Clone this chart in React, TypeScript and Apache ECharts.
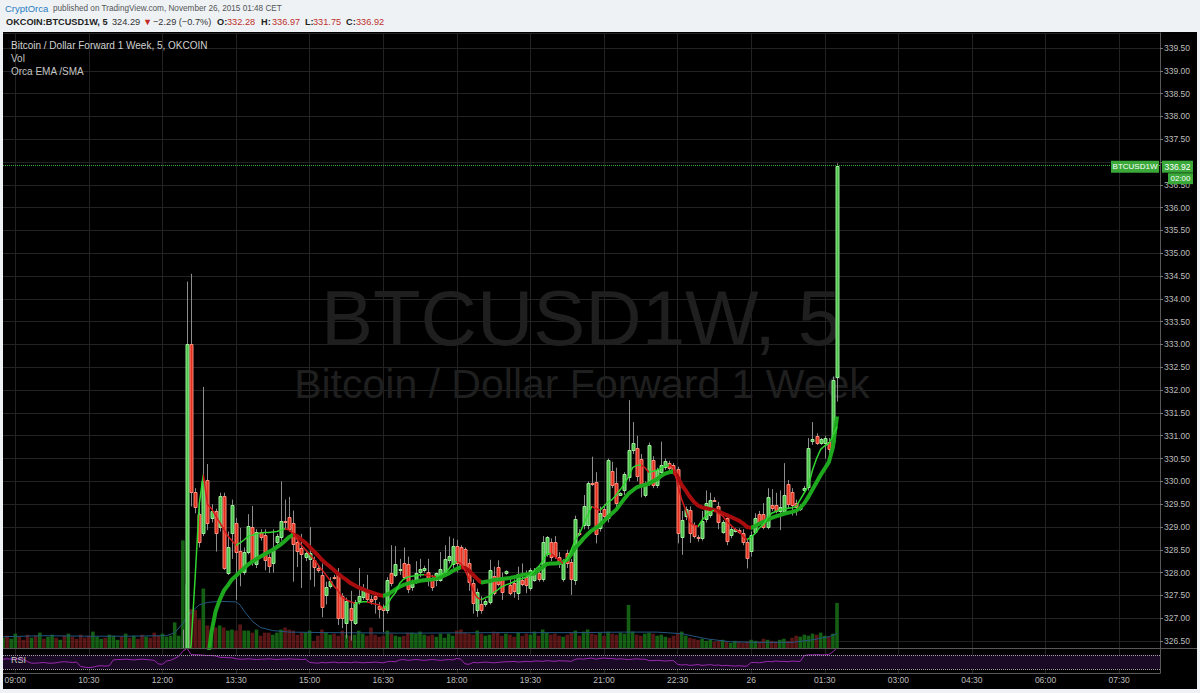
import React, { useEffect, useRef } from 'react';
import * as echarts from 'echarts';

const FONT = "'Liberation Sans', Arial, sans-serif";

// 5-minute slots from 08:45 (Nov 25) to 08:20 (Nov 26)
const firstSlotMinutes = 8 * 60 + 45;
const slotMinutes = 5;
const slotCount = 284;
const timeTicks = ['09:00', '10:30', '12:00', '13:30', '15:00', '16:30', '18:00', '19:30', '21:00', '22:30', '00:00', '01:30', '03:00', '04:30', '06:00', '07:30'];
const dayLabels: Record<string, string> = { '00:00': '26' };

// [open, high, low, close] per 5-minute bar, starting 08:45
const candles: number[][] = [
  [324.35, 324.45, 324.30, 324.40], [324.40, 324.44, 324.26, 324.30], [324.30, 324.42, 324.27, 324.38], [324.38, 324.50, 324.35, 324.45], [324.45, 324.48, 324.32, 324.36],
  [324.36, 324.40, 324.25, 324.30], [324.30, 324.33, 324.18, 324.22], [324.22, 324.32, 324.19, 324.28], [324.28, 324.31, 324.15, 324.20], [324.20, 324.29, 324.17, 324.25],
  [324.25, 324.27, 324.14, 324.18], [324.18, 324.28, 324.15, 324.24], [324.24, 324.35, 324.21, 324.30], [324.30, 324.33, 324.22, 324.26], [324.26, 324.37, 324.23, 324.33],
  [324.33, 324.36, 324.25, 324.29], [324.29, 324.40, 324.26, 324.35], [324.35, 324.38, 324.28, 324.31], [324.31, 324.34, 324.22, 324.27], [324.27, 324.30, 324.15, 324.20],
  [324.20, 324.23, 324.08, 324.12], [324.12, 324.16, 324.05, 324.10], [324.10, 324.19, 324.07, 324.15], [324.15, 324.22, 324.12, 324.18], [324.18, 324.26, 324.15, 324.22],
  [324.22, 324.25, 324.15, 324.19], [324.19, 324.30, 324.16, 324.26], [324.26, 324.45, 324.23, 324.40], [324.40, 324.50, 324.37, 324.46], [324.46, 324.49, 324.38, 324.42],
  [324.42, 324.55, 324.40, 324.50], [324.50, 324.53, 324.41, 324.45], [324.45, 324.57, 324.42, 324.52], [324.52, 324.55, 324.44, 324.48], [324.48, 324.51, 324.40, 324.44],
  [324.44, 324.54, 324.41, 324.50], [324.50, 324.53, 324.42, 324.46], [324.46, 324.49, 324.36, 324.40], [324.40, 324.43, 324.30, 324.34], [324.34, 324.42, 324.31, 324.38],
  [324.38, 324.50, 324.35, 324.45], [324.45, 324.60, 324.42, 324.55], [324.55, 324.75, 324.50, 324.70], [324.70, 324.95, 324.65, 324.90], [324.90, 326.75, 324.85, 325.20],
  // 45-49
  [325.20, 334.38, 325.10, 333.00], [333.00, 334.55, 329.45, 329.77], [329.77, 329.85, 329.30, 329.44], [329.29, 329.60, 328.55, 328.68], [328.87, 332.07, 328.80, 330.00],
  // 50-54
  [330.02, 330.38, 328.93, 329.08], [329.20, 329.50, 329.10, 329.35], [329.35, 329.40, 328.46, 328.87], [328.99, 329.75, 328.90, 329.68], [329.68, 329.75, 328.06, 328.10],
  // 55-59
  [328.00, 328.90, 327.95, 328.57], [328.87, 329.60, 328.30, 329.48], [329.09, 329.20, 327.40, 328.46], [328.48, 328.98, 327.70, 328.02], [328.02, 328.55, 327.95, 328.46],
  // 60-64
  [328.46, 329.28, 328.40, 329.02], [328.99, 329.46, 328.15, 328.24], [328.19, 328.95, 328.10, 328.88], [328.88, 328.95, 328.70, 328.77], [328.82, 328.95, 328.05, 328.28],
  // 65-69
  [328.35, 328.40, 327.99, 328.14], [328.20, 328.95, 328.00, 328.50], [328.68, 328.85, 328.60, 328.80], [328.79, 330.00, 328.70, 329.13], [329.13, 329.60, 328.95, 329.10],
  // 70-74
  [329.21, 329.66, 328.90, 328.96], [329.08, 329.36, 327.80, 328.62], [328.66, 328.75, 328.12, 328.48], [328.53, 328.85, 327.66, 328.41], [328.34, 328.50, 328.25, 328.44],
  // 75-79
  [328.30, 329.00, 327.84, 328.43], [328.28, 328.35, 327.69, 328.12], [328.09, 328.15, 328.00, 328.06], [327.95, 328.20, 327.02, 327.25], [327.51, 327.80, 327.30, 327.69],
  // 80-84
  [327.71, 327.90, 327.65, 327.82], [327.91, 327.95, 327.85, 327.90], [328.00, 328.10, 326.85, 327.00], [327.49, 327.55, 326.78, 327.00], [326.90, 327.45, 326.56, 327.38],
  // 85-89
  [327.22, 327.60, 326.51, 326.96], [326.90, 327.40, 326.85, 327.36], [327.37, 328.10, 327.30, 327.48], [327.47, 327.75, 327.40, 327.65], [327.58, 327.95, 327.35, 327.41],
  // 90-94
  [327.42, 327.50, 327.30, 327.38], [327.48, 327.55, 327.10, 327.42], [327.27, 327.35, 327.00, 327.21], [327.25, 327.30, 326.70, 327.18], [327.18, 327.90, 327.10, 327.84],
  // 95-99
  [328.00, 328.60, 327.70, 327.77], [327.95, 328.58, 327.90, 328.19], [328.06, 328.30, 327.95, 328.07], [328.20, 328.55, 327.85, 327.91], [328.19, 328.35, 327.55, 327.63],
  // 100-104
  [327.68, 327.85, 327.60, 327.78], [327.80, 328.25, 327.75, 327.98], [328.02, 328.30, 327.90, 328.07], [328.06, 328.15, 328.00, 328.09], [328.02, 328.30, 327.70, 327.84],
  // 105-109
  [327.85, 327.95, 327.60, 327.69], [327.84, 328.00, 327.70, 327.98], [327.84, 328.45, 327.80, 328.07], [328.02, 328.60, 327.95, 328.29], [328.28, 328.79, 328.20, 328.36],
  // 110-114
  [328.19, 328.75, 328.10, 328.58], [328.58, 328.72, 328.00, 328.20], [328.55, 328.60, 328.10, 328.15], [328.51, 328.55, 328.05, 328.13], [328.22, 328.30, 327.60, 327.80],
  // 115-119
  [327.78, 327.85, 327.10, 327.33], [327.18, 327.65, 327.03, 327.58], [327.31, 327.48, 327.10, 327.19], [327.31, 327.42, 327.25, 327.38], [327.36, 328.28, 327.30, 328.06],
  // 120-124
  [327.93, 328.13, 327.50, 327.56], [328.13, 328.27, 327.70, 327.76], [327.91, 328.00, 327.40, 327.58], [328.00, 328.05, 327.95, 328.04], [327.73, 327.90, 327.50, 327.55],
  // 125-129
  [327.78, 327.85, 327.45, 327.60], [327.56, 328.13, 327.40, 327.97], [327.84, 328.20, 327.70, 327.74], [327.91, 328.05, 327.55, 327.73], [327.66, 328.10, 327.60, 328.06],
  // 130-134
  [327.84, 328.10, 327.80, 328.04], [328.00, 328.15, 327.80, 327.87], [327.87, 328.80, 327.80, 328.68], [328.41, 328.80, 328.35, 328.79], [328.68, 328.75, 328.25, 328.35],
  // 135-139
  [328.68, 328.80, 328.30, 328.36], [328.35, 328.45, 328.10, 328.19], [327.87, 328.30, 327.80, 328.22], [328.44, 328.50, 328.10, 328.20], [328.24, 328.30, 327.51, 327.87],
  // 140-144
  [327.84, 329.25, 327.73, 329.17], [328.87, 328.95, 328.80, 328.84], [329.04, 329.70, 328.95, 329.46], [329.04, 330.00, 328.95, 329.96], [329.97, 330.54, 329.90, 329.94],
  // 145-149
  [329.99, 330.20, 328.64, 328.84], [328.98, 329.45, 328.90, 329.30], [329.39, 329.50, 329.10, 329.24], [329.19, 330.50, 329.10, 330.47], [330.23, 330.43, 329.85, 329.92],
  // 150-154
  [329.96, 330.30, 329.40, 329.52], [329.70, 329.76, 329.68, 329.74], [329.80, 330.20, 329.70, 330.16], [330.10, 331.78, 330.00, 330.69], [330.69, 331.30, 330.60, 330.85],
  // 155-159
  [330.73, 331.00, 330.00, 330.12], [330.48, 330.60, 329.65, 329.94], [329.70, 330.00, 329.65, 329.96], [329.96, 330.85, 329.90, 330.80], [330.47, 330.55, 329.85, 329.92],
  // 160-164
  [329.92, 330.30, 329.85, 330.25], [330.21, 330.87, 330.15, 330.36], [330.32, 330.50, 330.25, 330.45], [330.40, 330.45, 330.20, 330.29], [330.36, 330.40, 330.15, 330.21],
  // 165-169
  [330.26, 330.32, 328.64, 328.87], [328.77, 329.35, 328.39, 329.15], [329.23, 329.45, 329.15, 329.39], [329.37, 329.45, 328.65, 328.87], [329.04, 329.10, 328.75, 328.80],
  // 170-174
  [328.78, 328.82, 328.68, 328.76], [328.75, 329.35, 328.70, 329.12], [329.17, 329.80, 329.10, 329.52], [329.26, 329.75, 329.20, 329.59], [329.60, 329.65, 329.55, 329.58],
  // 175-179
  [329.46, 329.55, 328.95, 329.10], [328.90, 329.15, 328.85, 329.10], [329.19, 329.25, 328.60, 328.70], [328.82, 329.00, 328.75, 328.95], [328.92, 328.98, 328.88, 328.95],
  // 180-184
  [328.93, 328.97, 328.85, 328.88], [328.87, 328.95, 328.60, 328.68], [328.68, 328.72, 328.09, 328.31], [328.48, 328.90, 328.35, 328.82], [328.90, 329.30, 328.85, 329.19],
  // 185-189
  [329.29, 329.35, 329.05, 329.10], [329.29, 329.52, 328.95, 328.99], [328.99, 329.85, 328.95, 329.66], [329.48, 329.83, 329.35, 329.41], [329.48, 329.75, 329.30, 329.36],
  // 190-194
  [329.35, 329.80, 328.93, 329.43], [329.36, 330.40, 329.30, 329.70], [329.94, 330.03, 329.40, 329.50], [329.77, 329.85, 329.25, 329.48], [329.52, 329.60, 329.25, 329.43],
  // 195-199
  [329.40, 329.50, 329.35, 329.43], [329.80, 329.90, 329.75, 329.85], [329.87, 330.95, 329.80, 330.73], [330.88, 331.30, 330.80, 330.92], [330.99, 331.05, 330.80, 330.85],
  // 200-204
  [330.85, 330.95, 330.80, 330.92], [330.85, 331.00, 330.50, 330.95], [330.87, 330.95, 330.60, 330.70], [330.87, 332.30, 330.80, 332.22], [332.28, 336.97, 331.75, 336.92],
];

const volumes = [
  10, 12, 9, 14, 11, 8, 13, 10, 12, 15, 9, 11, 13, 10, 8, 12, 14, 11, 9, 13, 10, 12, 16, 11, 9, 10, 13, 12, 8, 11, 14, 10, 12, 9, 13, 11, 10, 15, 12, 14, 11,
  12, 25, 12, 105, 62, 38, 37, 28, 58, 22, 18, 20, 22, 20, 17, 18, 17, 23, 17, 17, 15, 18, 12, 15, 15, 13, 15, 18, 20, 18, 17, 13, 15, 15,
  17, 7, 12, 18, 15, 13, 14, 12, 17, 13, 12, 13, 17, 14, 12, 20, 13, 11, 12, 17, 14, 12, 11, 12, 15, 15, 14, 16, 13, 12, 13, 11, 14, 10, 14, 12, 17, 18, 15, 14, 13, 17,
  14, 12, 13, 16, 15, 12, 14, 13, 11, 15, 12, 14, 13, 16, 12, 18, 15, 13, 14, 12, 11, 13, 15, 17, 12, 16, 18, 14, 13, 15, 12, 16, 14, 13, 15, 14, 42, 16, 13, 12, 14,
  15, 14, 12, 13, 11, 10, 12, 14, 16, 12, 10, 9, 8, 9, 7, 8, 6, 7, 8, 6, 5, 7, 6, 5, 6, 8, 7, 6, 9, 8, 7, 6, 8, 9, 7, 10, 12, 11, 13, 12, 14, 13, 15, 12, 11, 14, 44,
];

// volume moving average, [slot, value]
const volumeAverage: number[][] = [
  [0, 11], [10, 12], [20, 11.5], [30, 11.5], [40, 12], [42, 15], [44, 24], [46, 35], [48, 42], [50, 44.5], [53, 45.5], [57, 45],
  [58, 42], [59, 36], [61, 26], [63, 20], [66, 17], [70, 15.5], [80, 15], [100, 14.5], [120, 15], [140, 15], [152, 15.5], [160, 15.5],
  [166, 14], [172, 9], [178, 6], [185, 5.5], [193, 5.5], [198, 8], [202, 11], [204, 14],
];

// Orca EMA (thick) from slot 50, SMA (thin) from slot 45
const emaStart = 50;
const emaValues = [
  326.0, 326.7, 327.15, 327.4, 327.6, 327.72, 327.85, 327.93, 328.02, 328.1,
  328.18, 328.24, 328.3, 328.35, 328.4, 328.45, 328.5, 328.56, 328.62, 328.7,
  328.78, 328.83, 328.8, 328.72, 328.65, 328.56, 328.47, 328.38, 328.28, 328.2,
  328.13, 328.05, 327.97, 327.9, 327.84, 327.77, 327.72, 327.67, 327.64, 327.6,
  327.57, 327.54, 327.51, 327.49, 327.52, 327.57, 327.63, 327.69, 327.73, 327.76,
  327.79, 327.8, 327.82, 327.83, 327.84, 327.85, 327.87, 327.9, 327.94, 327.98,
  328.04, 328.08, 328.12, 328.1, 328.04, 327.95, 327.86, 327.78, 327.8, 327.81,
  327.84, 327.85, 327.86, 327.87, 327.88, 327.9, 327.92, 327.95, 327.96, 327.97,
  327.98, 328.05, 328.12, 328.19, 328.2, 328.2, 328.21, 328.23, 328.28, 328.4,
  328.55, 328.64, 328.75, 328.84, 328.92, 328.98, 329.04, 329.13, 329.22, 329.3,
  329.38, 329.5, 329.62, 329.73, 329.8, 329.87, 329.9, 329.92, 329.95, 330.0,
  330.05, 330.12, 330.17, 330.2, 330.22, 330.1, 329.92, 329.8, 329.66, 329.55,
  329.47, 329.43, 329.41, 329.39, 329.37, 329.34, 329.3, 329.26, 329.22, 329.18,
  329.14, 329.08, 329.0, 328.98, 329.02, 329.07, 329.11, 329.16, 329.2, 329.23,
  329.26, 329.29, 329.31, 329.33, 329.36, 329.42, 329.52, 329.66, 329.82, 329.98,
  330.14, 330.28, 330.42, 330.75, 331.42,
];
const smaStart = 45;
const smaValues = [
  326.0, 326.4, 327.9, 329.5, 330.15,
  329.5, 329.4, 329.25, 329.1, 328.95, 328.8, 328.7, 328.6, 328.65, 328.72,
  328.8, 328.82, 328.85, 328.87, 328.88, 328.88, 328.89, 328.9, 328.93, 328.96,
  328.93, 328.86, 328.72, 328.6, 328.5, 328.4, 328.3, 328.18, 328.06, 327.95,
  327.83, 327.7, 327.6, 327.46, 327.4, 327.36, 327.33, 327.34, 327.36, 327.36,
  327.33, 327.31, 327.29, 327.22, 327.3, 327.45, 327.56, 327.76, 327.86, 327.9,
  327.92, 327.93, 327.95, 327.95, 327.94, 327.92, 327.91, 327.95, 328.0, 328.07,
  328.2, 328.24, 328.2, 328.05, 327.85, 327.6, 327.45, 327.4, 327.45, 327.48,
  327.56, 327.62, 327.69, 327.73, 327.76, 327.8, 327.84, 327.87, 327.9, 327.95,
  328.05, 328.13, 328.25, 328.4, 328.42, 328.35, 328.28, 328.2, 328.3, 328.5,
  328.72, 328.85, 329.05, 329.25, 329.45, 329.4, 329.37, 329.45, 329.55, 329.6,
  329.7, 329.82, 329.95, 330.1, 330.3, 330.35, 330.36, 330.3, 330.2, 330.22,
  330.25, 330.29, 330.33, 330.36, 330.3, 329.96, 329.6, 329.37, 329.1, 329.04,
  329.01, 329.15, 329.25, 329.33, 329.37, 329.3, 329.25, 329.12, 329.04, 328.96,
  328.9, 328.8, 328.72, 328.78, 328.86, 328.98, 329.05, 329.2, 329.3, 329.34,
  329.37, 329.39, 329.41, 329.42, 329.45, 329.6, 329.75, 329.9, 330.25, 330.5,
  330.7, 330.78, 330.83, 331.0, 331.2,
];

const rsiValues = [
  58, 59, 58, 58, 59, 58, 51, 47, 47, 48, 49, 47, 47, 48, 50, 51, 50, 49, 50, 38,
  36, 35, 36, 39, 40, 39, 40, 56, 57, 57, 58, 57, 56, 57, 58, 57, 56, 55, 45, 44,
  53, 55, 60, 66, 80, 88, 71, 70, 70, 69, 68, 68, 67, 63, 63, 62, 62, 59, 58, 58,
  59, 58, 57, 58, 58, 59, 58, 57, 58, 58, 59, 58, 58, 57, 58, 49, 48, 47, 49, 48,
  49, 50, 48, 49, 49, 48, 50, 49, 48, 49, 49, 50, 49, 48, 51, 52, 51, 56, 57, 55,
  56, 57, 56, 55, 56, 57, 56, 55, 56, 57, 56, 60, 58, 45, 44, 49, 48, 49, 50, 49,
  48, 49, 50, 51, 51, 52, 50, 51, 52, 51, 53, 53, 52, 54, 53, 52, 54, 53, 53, 52,
  58, 59, 58, 60, 61, 58, 60, 61, 60, 60, 58, 59, 58, 57, 58, 59, 58, 58, 54, 54,
  55, 54, 53, 54, 54, 44, 42, 43, 41, 42, 43, 41, 42, 43, 41, 42, 40, 41, 40, 39,
  40, 39, 39, 49, 49, 48, 50, 52, 51, 53, 52, 52, 51, 53, 52, 52, 68, 70, 70, 71,
  70, 70, 71, 78, 90,
];

const UP = '#49c449';
const UP_BORDER = '#9ceb99';
const DOWN = '#e2301e';
const DOWN_BORDER = '#ff8b7b';
const WICK = '#8c8c8c';
const VOL_UP = 'rgba(24,112,24,0.85)';
const VOL_DOWN = 'rgba(104,26,26,0.85)';
const GRID = '#232323';
const AXIS = '#585858';
const LABEL = '#bdbdbd';
const BOX = '#3aa93a';

function pad(n: number) {
  return n < 10 ? '0' + n : String(n);
}

function placeAt(start: number, vals: number[]) {
  const arr: (number | string)[] = new Array(slotCount).fill('-');
  vals.forEach((v, k) => {
    arr[start + k] = v;
  });
  return arr;
}

function slopePieces(start: number, vals: number[], up: string, down: string) {
  const runs: { a: number; b: number; up: boolean }[] = [];
  let runStart = 0;
  let dir = vals[1] >= vals[0];
  for (let k = 2; k <= vals.length; k++) {
    const d = k < vals.length ? vals[k] >= vals[k - 1] : !dir;
    if (d !== dir) {
      runs.push({ a: start + runStart, b: start + k - 1, up: dir });
      runStart = k - 1;
      dir = d;
    }
  }
  return runs.map((r, idx) => {
    const color = r.up ? up : down;
    if (runs.length === 1) return { gte: -1e9, color };
    if (idx === 0) return { lte: r.b, color };
    if (idx === runs.length - 1) return { gt: r.a, color };
    return { gt: r.a, lte: r.b, color };
  });
}

export default function App() {
  const ref = useRef<HTMLDivElement>(null);

  useEffect(() => {
    if (!ref.current) return;
    const chart = echarts.init(ref.current, undefined, { renderer: 'svg' });

    const categories: string[] = [];
    for (let i = 0; i < slotCount; i++) {
      const m = (firstSlotMinutes + i * slotMinutes) % 1440;
      categories.push(pad(Math.floor(m / 60)) + ':' + pad(m % 60));
    }
    const tickShown = (_i: number, v: string) => timeTicks.includes(v);

    const candleData = candles.map((c, i) => [i, c[0], c[1], c[2], c[3]]);
    const volData = volumes.map((v, i) => ({
      value: v,
      itemStyle: { color: candles[i][3] >= candles[i][0] ? VOL_UP : VOL_DOWN },
    }));
    const last = candles[candles.length - 1];

    const renderCandle = (_params: any, api: any) => {
      const x = api.value(0);
      const o = api.value(1);
      const h = api.value(2);
      const l = api.value(3);
      const c = api.value(4);
      const pO = api.coord([x, o]);
      const pC = api.coord([x, c]);
      const pH = api.coord([x, h]);
      const pL = api.coord([x, l]);
      const cx = Math.round(pO[0]);
      const top = Math.round(Math.min(pO[1], pC[1]));
      const bot = Math.round(Math.max(pO[1], pC[1]));
      const up = c >= o;
      return {
        type: 'group',
        children: [
          {
            type: 'line',
            shape: { x1: cx + 0.5, y1: pH[1], x2: cx + 0.5, y2: pL[1] },
            style: { stroke: WICK, lineWidth: 1 },
          },
          {
            type: 'rect',
            shape: { x: cx - 1, y: top + 0.5, width: 3, height: Math.max(bot - top, 1) },
            style: { fill: up ? UP : DOWN, stroke: up ? UP_BORDER : DOWN_BORDER, lineWidth: 1 },
          },
        ],
      };
    };

    chart.setOption({
      animation: false,
      backgroundColor: '#000000',
      textStyle: { fontFamily: FONT },
      grid: [
        { left: 3, right: 40, top: 33, height: 615 },
        { left: 3, right: 40, top: 649, height: 24 },
      ],
      xAxis: [
        {
          type: 'category', gridIndex: 0, data: categories, boundaryGap: false,
          axisLine: { show: false }, axisTick: { show: false }, axisLabel: { show: false },
          splitLine: { show: true, interval: tickShown, lineStyle: { color: GRID, width: 1 } },
        },
        {
          type: 'category', gridIndex: 1, data: categories, boundaryGap: false,
          axisLine: { show: true, lineStyle: { color: AXIS } }, axisTick: { show: false },
          axisLabel: {
            interval: tickShown, color: LABEL, fontSize: 8.5, margin: 2,
            formatter: (v: string) => dayLabels[v] || v,
          },
          splitLine: { show: true, interval: tickShown, lineStyle: { color: GRID, width: 1 } },
        },
      ],
      yAxis: [
        {
          type: 'value', gridIndex: 0, position: 'right', scale: true,
          min: 326.3465, max: 339.8288, minInterval: 0.5, maxInterval: 0.5, splitNumber: 27,
          axisLine: { show: true, lineStyle: { color: AXIS } },
          axisTick: { show: true, length: 3, lineStyle: { color: '#777' } },
          axisLabel: {
            color: LABEL, fontSize: 8.5, margin: 4, showMinLabel: false, showMaxLabel: false,
            // the 337.00 label sits under the last-price box
            formatter: (v: number) => (Math.abs(v - last[3]) < 0.15 ? '' : v.toFixed(2)),
          },
          splitLine: { show: true, lineStyle: { color: GRID, width: 1 } },
        },
        { type: 'value', gridIndex: 0, min: 0, max: 600, show: false },
        {
          type: 'value', gridIndex: 1, position: 'right', min: 20, max: 86,
          axisLine: { show: true, lineStyle: { color: AXIS } }, axisTick: { show: false },
          axisLabel: { show: false }, splitLine: { show: false },
        },
      ],
      visualMap: [
        { type: 'piecewise', show: false, dimension: 0, seriesIndex: 3, pieces: slopePieces(emaStart, emaValues, '#1ea81e', '#a80c0c') },
        { type: 'piecewise', show: false, dimension: 0, seriesIndex: 4, pieces: slopePieces(smaStart, smaValues, '#2fd42f', '#d21c1c') },
      ],
      series: [
        {
          name: 'Vol', type: 'bar', xAxisIndex: 0, yAxisIndex: 1, data: volData, barWidth: 3.6, z: 1,
        },
        {
          name: 'Vol MA', type: 'line', xAxisIndex: 0, yAxisIndex: 1, data: volumeAverage, showSymbol: false,
          lineStyle: { color: '#24567f', width: 1 }, z: 1,
        },
        {
          name: 'BTCUSD1W', type: 'custom', xAxisIndex: 0, yAxisIndex: 0, data: candleData, clip: true,
          encode: { x: 0, y: [1, 2, 3, 4] }, renderItem: renderCandle, z: 3,
          markLine: {
            silent: true, symbol: ['none', 'none'], label: { show: false },
            lineStyle: { color: BOX, type: 'dotted', width: 1 },
            data: [{ yAxis: last[3] }],
          },
        },
        {
          name: 'Orca EMA', type: 'line', xAxisIndex: 0, yAxisIndex: 0, data: placeAt(emaStart, emaValues),
          showSymbol: false, lineStyle: { width: 4 }, z: 4,
        },
        {
          name: 'Orca SMA', type: 'line', xAxisIndex: 0, yAxisIndex: 0, data: placeAt(smaStart, smaValues),
          showSymbol: false, lineStyle: { width: 1.5 }, z: 5,
        },
        {
          name: 'RSI', type: 'line', xAxisIndex: 1, yAxisIndex: 2, data: rsiValues, showSymbol: false,
          lineStyle: { color: '#9a2aae', width: 1 },
          markArea: { silent: true, itemStyle: { color: '#1a0a26' }, data: [[{ yAxis: 30 }, { yAxis: 70 }]] },
          markLine: {
            silent: true, symbol: ['none', 'none'], label: { show: false },
            lineStyle: { color: '#a0a0a0', type: 'dotted', width: 1 },
            data: [{ yAxis: 70 }, { yAxis: 30 }],
          },
        },
      ],
    });

    const yLast = chart.convertToPixel({ yAxisIndex: 0 }, last[3]) as number;
    const headerY1 = 8;
    const headerY2 = 22;
    const hdr = (text: string, x: number, y: number, fill: string, size: number, weight = 'normal') => ({
      type: 'text', x, y, z: 100,
      style: { text, fill, fontSize: size, fontWeight: weight, fontFamily: FONT, textVerticalAlign: 'middle' },
    });
    const RED = '#c0302c';

    chart.setOption({
      graphic: [
        // light page frame
        { type: 'rect', shape: { x: 0, y: 0, width: 1200, height: 32 }, style: { fill: '#eef2f5' }, z: 90 },
        { type: 'rect', shape: { x: 0, y: 689, width: 1200, height: 4 }, style: { fill: '#eef2f5' }, z: 90 },
        { type: 'rect', shape: { x: 0, y: 0, width: 3, height: 693 }, style: { fill: '#eef2f5' }, z: 90 },
        { type: 'rect', shape: { x: 1197, y: 0, width: 3, height: 693 }, style: { fill: '#eef2f5' }, z: 90 },
        // header
        hdr('CryptOrca', 5, headerY1, '#2b7cc2', 9.5),
        hdr('published on TradingView.com, November 26, 2015 01:48 CET', 53, headerY1, '#555555', 8.2),
        hdr('OKCOIN:BTCUSD1W, 5', 6, headerY2, '#222222', 9.2, 'bold'),
        hdr('324.29', 112, headerY2, '#333333', 9.2),
        hdr('▼', 143, headerY2, '#c62828', 9.2),
        hdr('\u22122.29 (\u22120.7%)', 153, headerY2, '#333333', 9.2),
        hdr('O:', 217, headerY2, '#222222', 9.2, 'bold'),
        hdr(last[0].toFixed(2), 227, headerY2, RED, 9.2),
        hdr('H:', 261, headerY2, '#222222', 9.2, 'bold'),
        hdr(last[1].toFixed(2), 272, headerY2, RED, 9.2),
        hdr('L:', 305, headerY2, '#222222', 9.2, 'bold'),
        hdr(last[2].toFixed(2), 313, headerY2, RED, 9.2),
        hdr('C:', 346, headerY2, '#222222', 9.2, 'bold'),
        hdr(last[3].toFixed(2), 356, headerY2, RED, 9.2),
        // watermark
        {
          type: 'text', x: 581, y: 318, z: 1,
          style: { text: 'BTCUSD1W, 5', fill: '#1f1f1f', fontSize: 78, fontFamily: FONT, textAlign: 'center', textVerticalAlign: 'middle' },
        },
        {
          type: 'text', x: 582, y: 384, z: 1,
          style: { text: 'Bitcoin / Dollar Forward 1 Week', fill: '#1f1f1f', fontSize: 41, fontFamily: FONT, textAlign: 'center', textVerticalAlign: 'middle' },
        },
        // pane legends
        hdr('Bitcoin / Dollar Forward 1 Week, 5, OKCOIN', 11, 45, '#d2d2d2', 10),
        hdr('Vol', 11, 58, '#c4c4c4', 10),
        hdr('Orca EMA /SMA', 11, 71, '#c4c4c4', 10),
        hdr('RSI', 11, 660, '#c8c8c8', 9),
        // pane separator
        { type: 'line', shape: { x1: 3, y1: 648.5, x2: 1197, y2: 648.5 }, style: { stroke: AXIS, lineWidth: 1 }, z: 50 },
        // last price labels
        { type: 'rect', shape: { x: 1111, y: yLast - 5, width: 48, height: 12 }, style: { fill: BOX }, z: 60 },
        { type: 'rect', shape: { x: 1162, y: yLast - 5, width: 31, height: 12 }, style: { fill: BOX }, z: 60 },
        { type: 'rect', shape: { x: 1168, y: yLast + 7.5, width: 25, height: 11 }, style: { fill: BOX }, z: 60 },
        {
          type: 'text', x: 1135, y: yLast + 1, z: 61,
          style: { text: 'BTCUSD1W', fill: '#ffffff', fontSize: 8, fontFamily: FONT, textAlign: 'center', textVerticalAlign: 'middle' },
        },
        {
          type: 'text', x: 1177.5, y: yLast + 1, z: 61,
          style: { text: last[3].toFixed(2), fill: '#ffffff', fontSize: 8.5, fontFamily: FONT, textAlign: 'center', textVerticalAlign: 'middle' },
        },
        {
          type: 'text', x: 1180.5, y: yLast + 12.5, z: 61,
          style: { text: '02:00', fill: '#ffffff', fontSize: 8, fontFamily: FONT, textAlign: 'center', textVerticalAlign: 'middle' },
        },
      ],
    });

    return () => chart.dispose();
  }, []);

  return <div ref={ref} style={{ position: 'absolute', left: 0, top: 0, width: 1200, height: 693 }} />;
}
